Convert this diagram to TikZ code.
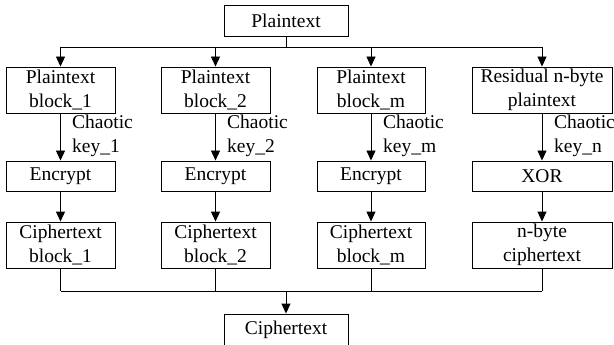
\documentclass[tikz,border=0pt]{standalone}
\usepackage{fontspec}
\setmainfont{Liberation Serif}
\newfontfamily\tnr{Liberation Serif}
\usetikzlibrary{arrows.meta}
\begin{document}
\begin{tikzpicture}[x=1pt,y=-1pt,
  every node/.style={font=\tnr\fontsize{19.5}{23.5}\selectfont},
  box/.style={draw,line width=0.9pt,rectangle,inner sep=0pt,align=center},
  lbl/.style={align=left,anchor=west,inner sep=0pt},
  arr/.style={line width=0.9pt,-{Triangle[length=10pt,width=9pt]}},
  ln/.style={line width=0.9pt}]
\useasboundingbox (0,0) rectangle (614,345);
\node[box,minimum width=124pt,minimum height=31pt] (pt) at (286,20.5) {Plaintext};
\node[box,minimum width=109pt,minimum height=46pt] (p1) at (60.5,90) {Plaintext\\block\_1};
\node[box,minimum width=109pt,minimum height=46pt] (p2) at (215.5,90) {Plaintext\\block\_2};
\node[box,minimum width=108pt,minimum height=46pt] (p3) at (371,90) {Plaintext\\block\_m};
\node[box,minimum width=140pt,minimum height=46pt] (p4) at (542,90) {Residual n-byte\\plaintext};
\node[box,minimum width=109pt,minimum height=30pt] (e1) at (60.5,176) {Encrypt};
\node[box,minimum width=109pt,minimum height=30pt] (e2) at (215.5,176) {Encrypt};
\node[box,minimum width=108pt,minimum height=30pt] (e3) at (371,176) {Encrypt};
\node[box,minimum width=140pt,minimum height=30pt] (e4) at (542,176) {XOR};
\node[box,minimum width=109pt,minimum height=46pt] (c1) at (60.5,245) {Ciphertext\\block\_1};
\node[box,minimum width=109pt,minimum height=46pt] (c2) at (215.5,245) {Ciphertext\\block\_2};
\node[box,minimum width=108pt,minimum height=46pt] (c3) at (371,245) {Ciphertext\\block\_m};
\node[box,minimum width=140pt,minimum height=46pt] (c4) at (542,245) {n-byte\\ciphertext};
\node[box,minimum width=124pt,minimum height=31pt] (ct) at (286,329.5) {Ciphertext};
\node[lbl] (k1) at (72,136) {Chaotic\\key\_1};
\node[lbl] (k2) at (227,136) {Chaotic\\key\_2};
\node[lbl] (k3) at (383,136) {Chaotic\\key\_m};
\node[lbl] (k4) at (554,136) {Chaotic\\key\_n};
\coordinate (top) at (286,47);
\coordinate (bot) at (286,291);
\draw[ln] (pt.south) -- (top);
\draw[ln] (p1.north |- top) -- (p4.north |- top);
\foreach \n in {1,2,3,4}{
  \draw[arr] (p\n.north |- top) -- (p\n.north);
  \draw[arr] (p\n.south) -- (e\n.north);
  \draw[arr] (e\n.south) -- (c\n.north);
  \draw[ln] (c\n.south) -- (c\n.south |- bot);
}
\draw[ln] (c1.south |- bot) -- (c4.south |- bot);
\draw[arr] (bot) -- (ct.north);
\end{tikzpicture}
\end{document}
